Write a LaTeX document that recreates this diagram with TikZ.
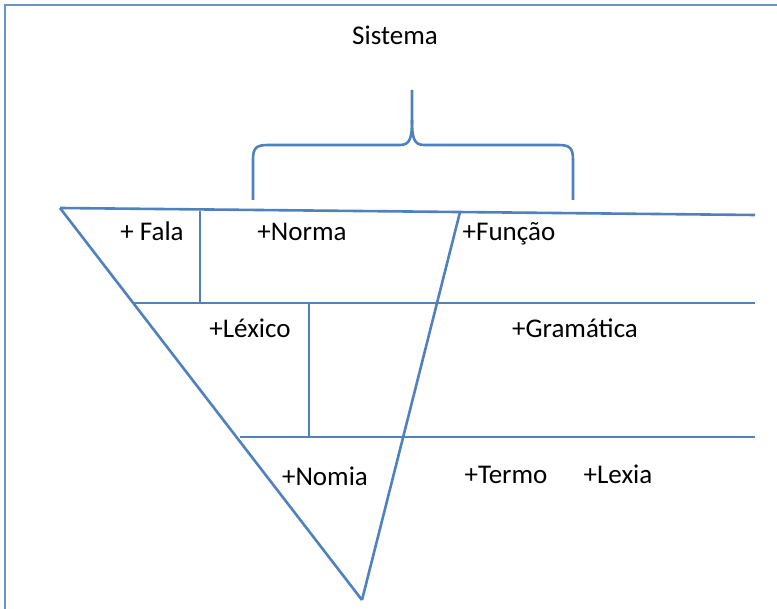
\documentclass[tikz,border=0pt]{standalone}
\usepackage{fontspec}
\setmainfont{Carlito}
\usetikzlibrary{positioning}
\definecolor{lineblue}{HTML}{4F81BD}

\begin{document}
\begin{tikzpicture}[x=0.5pt, y=-0.5pt,
    rule/.style={draw=lineblue, line width=1.3pt},
    frame/.style={draw=lineblue!85, line width=1pt},
    lbl/.style={font=\fontsize{13.5}{16}\selectfont, inner sep=0pt, anchor=base}]
    \useasboundingbox (0,0) rectangle (777,609);
    % Frame (top and left edges)
    \draw[frame] (5,609) -- (5,5) -- (777,5);

    % Corners of the cone
    \coordinate (topL) at (60,208);
    \coordinate (topR) at (755,215);
    \coordinate (tip) at (362,600);
    \coordinate (funL) at (460,212);
    % Levels
    \coordinate (midL) at (133,303);
    \coordinate (midR) at (755,303);
    \coordinate (lowL) at (240,437);
    \coordinate (lowR) at (755,437);
    % Dividers
    \coordinate (falaT) at (200,211);
    \coordinate (falaB) at (200,303);
    \coordinate (lexT) at (309,303);
    \coordinate (lexB) at (309,437);

    \draw[rule] (topL) -- (topR);
    \draw[rule] (topL) -- (tip);
    \draw[rule] (funL) -- (tip);
    \draw[rule] (midL) -- (midR);
    \draw[rule] (lowL) -- (lowR);
    \draw[rule] (falaT) -- (falaB);
    \draw[rule] (lexT) -- (lexB);

    % Brace
    \coordinate (brL) at (253,200);
    \coordinate (brR) at (573,200);
    \coordinate (brT) at (412,90);
    \draw[rule] (brL) -- (253,160) .. controls (253,148) and (256,145) .. (268,145)
        -- (400,145) .. controls (410,145) and (412,138) .. (412,120) -- (brT);
    \draw[rule] (brR) -- (573,160) .. controls (573,148) and (570,145) .. (558,145)
        -- (424,145) .. controls (414,145) and (412,138) .. (412,120);

    % Labels
    \node[lbl] (sistema) at (395,45) {Sistema};
    \node[lbl] (fala) at (152,241) {+ Fala};
    \node[lbl] (norma) at (302,241) {+Norma};
    \node[lbl] (funcao) at (509,241) {+Função};
    \node[lbl] (lexico) at (250,338) {+Léxico};
    \node[lbl] (gramatica) at (575,338) {+Gramática};
    \node[lbl] (nomia) at (325,486) {+Nomia};
    \node[lbl] (termo) at (506,483) {+Termo};
    \node[lbl] (lexia) at (618,483) {+Lexia};
\end{tikzpicture}
\end{document}
